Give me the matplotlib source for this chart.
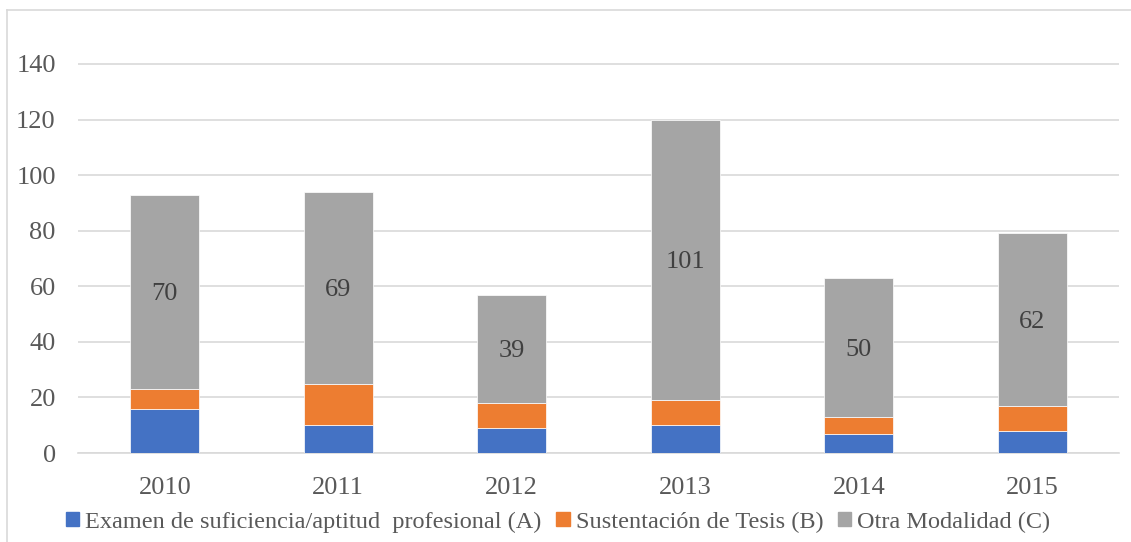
import matplotlib
matplotlib.use("Agg")
import matplotlib.pyplot as plt
import numpy as np
from matplotlib.patches import Rectangle

years = ["2010", "2011", "2012", "2013", "2014", "2015"]
serie_a = [16, 10, 9, 10, 7, 8]
serie_b = [7, 15, 9, 9, 6, 9]
serie_c = [70, 69, 39, 101, 50, 62]
labels = ["Examen de suficiencia/aptitud  profesional (A)",
          "Sustentación de Tesis (B)",
          "Otra Modalidad (C)"]
colors = ["#4472C4", "#ED7D31", "#A5A5A5"]
yticks = [0, 20, 40, 60, 80, 100, 120, 140]

plt.rcParams['font.family'] = ['Liberation Serif', 'DejaVu Serif']

fig = plt.figure(figsize=(11.31, 5.42), dpi=100)
ax = fig.add_axes([78/1131, 1-453/542, (1119-78)/1131, (453-40)/542])

x = np.arange(len(years))
w = 0.4
a = np.array(serie_a); b = np.array(serie_b); c = np.array(serie_c)
ax.bar(x, a, w, color=colors[0], edgecolor="white", linewidth=0.5, zorder=3)
ax.bar(x, b, w, bottom=a, color=colors[1], edgecolor="white", linewidth=0.5, zorder=3)
ax.bar(x, c, w, bottom=a + b, color=colors[2], edgecolor="white", linewidth=0.5, zorder=3)
for xi, ci, base in zip(x, c, a + b):
    ax.text(xi, base + ci / 2, str(ci), ha="center", va="center_baseline",
            fontsize=19, color="#404040", zorder=4)

ax.set_xlim(-0.5, len(years) - 0.5)
ax.set_ylim(0, 140 * (453 - 40) / (453 - 64))
ax.set_yticks(yticks)
ax.set_xticks(x)
ax.set_xticklabels(years)
ax.tick_params(axis="both", length=0, labelsize=19, labelcolor="#595959")
ax.tick_params(axis="y", pad=16)
ax.tick_params(axis="x", pad=17)
ax.grid(axis="y", color="#D9D9D9", linewidth=1.2, zorder=0)
for s in ["top", "right", "left"]:
    ax.spines[s].set_visible(False)
ax.spines["bottom"].set_color("#D9D9D9")
ax.spines["bottom"].set_linewidth(1.2)

# figure border (top and left)
fig.add_artist(plt.Line2D([7/1131, 1], [1-10/542, 1-10/542], color="#D9D9D9", lw=1.2))
fig.add_artist(plt.Line2D([7/1131, 7/1131], [0, 1-10/542], color="#D9D9D9", lw=1.2))

handles = [Rectangle((0, 0), 1, 1, color=col) for col in colors]
fig.legend(handles, labels, loc="center left", bbox_to_anchor=(66/1131, 1-522/542),
           ncol=3, frameon=False, fontsize=17.5, labelcolor="#595959",
           handlelength=0.55, handleheight=0.55, handletextpad=0.25, columnspacing=0.6,
           borderaxespad=0, borderpad=0)

fig.savefig("out.png", dpi=100)
